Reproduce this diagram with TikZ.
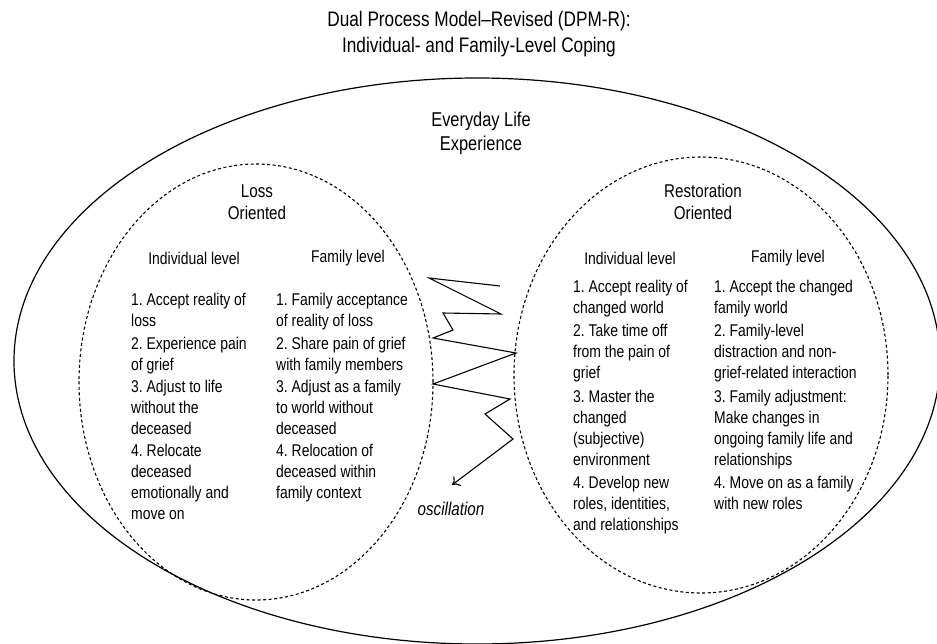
\documentclass[tikz,border=0pt]{standalone}
\usepackage{fontspec}
\setmainfont{Liberation Sans}[FakeStretch=0.82]
\usetikzlibrary{arrows.meta}
\frenchspacing

\tikzset{
  headtext/.style={align=center, inner sep=0pt, font=\fontsize{18.5}{22}\selectfont},
  leveltext/.style={inner sep=0pt, font=\fontsize{17}{21}\selectfont},
  listtext/.style={anchor=north west, align=left, inner sep=0pt, font=\fontsize{17}{21}\selectfont},
  dashline/.style={line width=1.1pt, dash pattern=on 3pt off 2.5pt},
}

\begin{document}
\begin{tikzpicture}[x=1pt,y=-1pt]
  \useasboundingbox (0,0) rectangle (937,643);
  \clip (0,0) rectangle (937,643);

  \node[headtext, font=\fontsize{21}{26}\selectfont] (title) at (479,34)
    {Dual Process Model--Revised (DPM-R):\\Individual- and Family-Level Coping};

  % everyday life
  \draw[line width=1.2pt] (477,361) ellipse [x radius=463pt, y radius=283pt];
  \node[headtext, font=\fontsize{20}{24}\selectfont] (everyday) at (481,133) {Everyday Life\\Experience};

  \foreach \cx/\cy/\rx in {256/382/177, 701/375/187}{
    \draw[dashline] (\cx,\cy) ellipse [x radius=\rx pt, y radius=218pt];
  }

  % loss side
  \node[headtext] (loss) at (257,202) {Loss\\Oriented};
  \node[leveltext] (lossind) at (194,258) {Individual level};
  \node[leveltext] (lossfam) at (348,258) {Family level};
  \node[listtext] (lossindlist) at (131,293)
    {1. Accept reality of\\loss\\[2pt]
     2. Experience pain\\of grief\\[1pt]
     3. Adjust to life\\without the\\deceased\\[1pt]
     4. Relocate\\deceased\\emotionally and\\move on};
  \node[listtext] (lossfamlist) at (276,293)
    {1. Family acceptance\\of reality of loss\\[2pt]
     2. Share pain of grief\\with family members\\[1pt]
     3. Adjust as a family\\to world without\\deceased\\[1pt]
     4. Relocation of\\deceased within\\family context};

  % restoration side
  \node[headtext] (rest) at (703,202) {Restoration\\Oriented};
  \node[leveltext] (restind) at (630,258) {Individual level};
  \node[leveltext] (restfam) at (788,258) {Family level};
  \node[listtext] (restindlist) at (573,280)
    {1. Accept reality of\\changed world\\[2pt]
     2. Take time off\\from the pain of\\grief\\[2.5pt]
     3. Master the\\changed\\(subjective)\\environment\\[2.5pt]
     4. Develop new\\roles, identities,\\and relationships};
  \node[listtext] (restfamlist) at (714,280)
    {1. Accept the changed\\family world\\[2pt]
     2. Family-level\\distraction and non-\\grief-related interaction\\[2.5pt]
     3. Family adjustment:\\Make changes in\\ongoing family life and\\relationships\\[2.5pt]
     4. Move on as a family\\with new roles};

  % oscillation
  \coordinate (oscend) at (452,485);
  \draw[line width=1.1pt, -{To[length=7pt,width=12pt]}] (500,286) -- (429,278) -- (501,314) -- (443,313)
    -- (453,330) -- (433,338) -- (516,353) -- (433,384) -- (510,399) -- (485,414)
    -- (513,439) -- (oscend);
  \node[leveltext, font=\fontsize{18.5}{21}\selectfont\itshape] (osc) at (451,509) {oscillation};
\end{tikzpicture}
\end{document}
